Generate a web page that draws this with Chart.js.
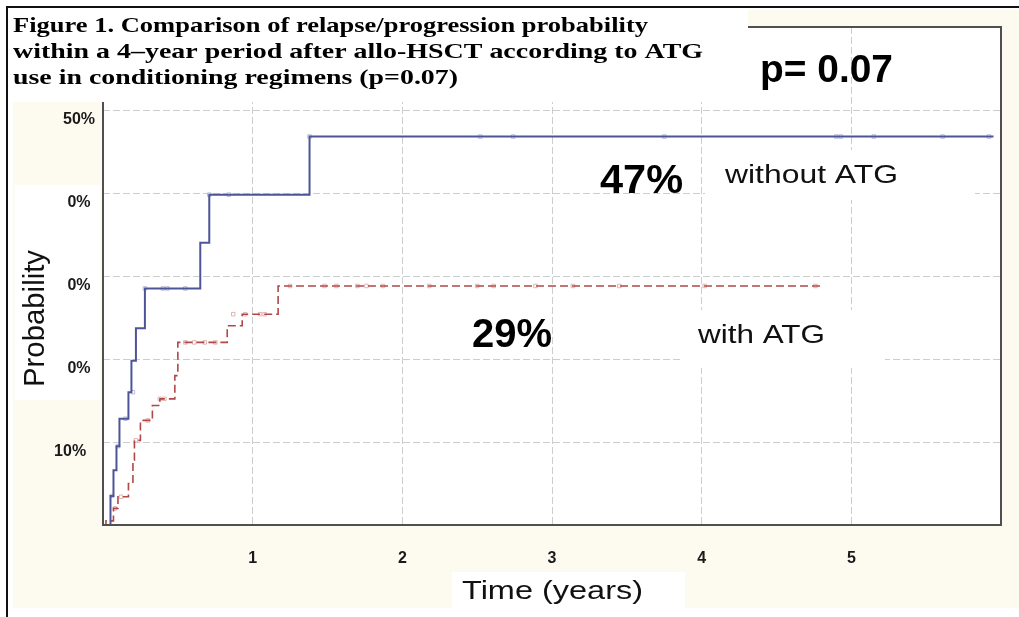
<!DOCTYPE html>
<html><head><meta charset="utf-8">
<script src="https://cdn.jsdelivr.net/npm/chart.js@4.4.0/dist/chart.umd.min.js"></script>
<style>html,body{margin:0;padding:0;background:#fff;overflow:hidden}canvas{display:block}</style>
</head><body>
<canvas id="c" width="1019" height="617"></canvas>
<script>
// ---- data ----
const titleLines = [
  'Figure 1. Comparison of relapse/progression probability',
  'within a 4\u2013year period after allo-HSCT according to ATG',
  'use in conditioning regimens (p=0.07)'
];
const xTickLabels = ['', '1', '2', '3', '4', '5', ''];
const yTickLabels = ['', '10%  ', '0% ', '0% ', '0% ', '50%', ''];

// without ATG (solid blue)
const blueTimes  = [0, 0.05, 0.07, 0.09, 0.11, 0.17, 0.19, 0.22, 0.28, 0.65, 0.71, 1.38, 5.95];
const blueValues = [0, 0.035, 0.066, 0.095, 0.128, 0.16, 0.198, 0.237, 0.285, 0.34, 0.398, 0.468, 0.468];
const blueCensorTimes  = [0.06, 0.1, 0.15, 0.2, 0.28, 0.40, 0.43, 0.55, 0.71, 0.84, 1.38, 2.52, 2.74, 3.75, 4.90, 4.93, 5.15, 5.61, 5.92];
const blueCensorValues = [0.035, 0.095, 0.128, 0.16, 0.285, 0.285, 0.285, 0.285, 0.398, 0.398, 0.468, 0.468, 0.468, 0.468, 0.468, 0.468, 0.468, 0.468, 0.468];

// with ATG (dashed red)
const redTimes  = [0, 0.02, 0.07, 0.1, 0.17, 0.2, 0.21, 0.25, 0.33, 0.38, 0.48, 0.5, 0.83, 0.93, 1.17, 4.8];
const redValues = [0, 0.005, 0.02, 0.034, 0.05, 0.078, 0.102, 0.126, 0.144, 0.152, 0.18, 0.22, 0.24, 0.254, 0.288, 0.288];
const redCensorTimes  = [0.08, 0.12, 0.22, 0.3, 0.38, 0.41, 0.55, 0.61, 0.68, 0.75, 0.87, 0.95, 1.05, 1.08, 1.25, 1.48, 1.56, 1.70, 1.76, 1.87, 2.18, 2.50, 2.61, 2.89, 3.14, 3.45, 4.02, 4.76];
const redCensorValues = [0.02, 0.034, 0.102, 0.126, 0.152, 0.152, 0.22, 0.22, 0.22, 0.22, 0.254, 0.254, 0.254, 0.254, 0.288, 0.288, 0.288, 0.288, 0.288, 0.288, 0.288, 0.288, 0.288, 0.288, 0.288, 0.288, 0.288, 0.288];

const pvalueText = 'p= 0.07';
const blueLabel = 'without ATG', blueRate = '47%';
const redLabel = 'with ATG', redRate = '29%';
const xTitle = 'Time (years)', yTitle = 'Probability';

// ---- build ----
const zip = (xs, ys) => xs.map((x, i) => ({x, y: ys[i]}));
const CREAM = '#fdfaf0';

function fitText(ctx, text, x, y, font, width, color) {
  ctx.save();
  ctx.font = font; ctx.fillStyle = color || '#000';
  ctx.textBaseline = 'alphabetic'; ctx.textAlign = 'left';
  const w = ctx.measureText(text).width;
  ctx.translate(x, y); ctx.scale(width ? width / w : 1, 1);
  ctx.fillText(text, 0, 0);
  ctx.restore();
}

const deco = {
  id: 'deco',
  beforeDraw(chart) {
    const ctx = chart.ctx, a = chart.chartArea;
    ctx.save();
    ctx.fillStyle = '#fff'; ctx.fillRect(0, 0, 1019, 617);
    ctx.fillStyle = CREAM; ctx.fillRect(13, 10, 1006, 598);
    ctx.fillStyle = '#fff';
    ctx.fillRect(a.left, a.top, a.right - a.left, a.bottom - a.top);
    ctx.fillRect(15, 185, 85, 215);
    ctx.fillRect(452, 572, 233, 36);
    ctx.strokeStyle = '#111'; ctx.lineWidth = 2;
    ctx.beginPath(); ctx.moveTo(7, 617); ctx.lineTo(7, 7); ctx.lineTo(1019, 7); ctx.stroke();
    ctx.restore();
  },
  afterDraw(chart) {
    const ctx = chart.ctx, a = chart.chartArea;
    ctx.save();
    ctx.strokeStyle = '#505050'; ctx.lineWidth = 2;
    ctx.strokeRect(a.left, a.top, a.right - a.left, a.bottom - a.top);
    ctx.fillStyle = '#fff';
    ctx.fillRect(8, 8, 740, 94);
    ctx.fillRect(705, 150, 270, 50);
    ctx.fillRect(683, 310, 202, 58);
    ctx.restore();
    const serif = 'bold 21px "Liberation Serif", "Times New Roman", serif';
    fitText(ctx, titleLines[0], 13, 32, serif, 635);
    fitText(ctx, titleLines[1], 13, 58, serif, 690);
    fitText(ctx, titleLines[2], 13, 84, serif, 445);
    const sans = '"Liberation Sans", Arial, sans-serif';
    fitText(ctx, pvalueText, 760, 82, 'bold 38px ' + sans, 133);
    fitText(ctx, blueRate, 600, 193, 'bold 40px ' + sans, 83);
    fitText(ctx, redRate, 472, 347, 'bold 40px ' + sans, 80);
    fitText(ctx, blueLabel, 725, 183, '25px ' + sans, 173, '#111');
    fitText(ctx, redLabel, 698, 343, '25px ' + sans, 127, '#111');
    fitText(ctx, xTitle, 462, 599, '25px ' + sans, 181, '#111');
    // rotated y title
    ctx.save();
    ctx.font = '26px ' + sans; ctx.fillStyle = '#111';
    const w = ctx.measureText(yTitle).width;
    ctx.translate(44, 387);
    ctx.scale(1.15, 1);
    ctx.rotate(-Math.PI / 2);
    ctx.scale(137 / w, 1);
    ctx.fillText(yTitle, 0, 0);
    ctx.restore();
  }
};

new Chart(document.getElementById('c'), {
  type: 'line',
  data: {
    datasets: [
      { label: blueLabel, data: zip(blueTimes, blueValues), stepped: 'before',
        borderColor: '#4e5597', borderWidth: 2, pointRadius: 0, fill: false },
      { label: redLabel, data: zip(redTimes, redValues), stepped: 'before',
        borderColor: '#b04848', borderWidth: 1.6, borderDash: [8, 4], pointRadius: 0, fill: false },
      { type: 'scatter', label: 'c1', data: zip(blueCensorTimes, blueCensorValues), showLine: false,
        pointStyle: 'rect', pointRadius: 2.5, pointBackgroundColor: '#fff', pointBorderColor: '#b8bcd8', pointBorderWidth: 1 },
      { type: 'scatter', label: 'c2', data: zip(redCensorTimes, redCensorValues), showLine: false,
        pointStyle: 'rect', pointRadius: 2.5, pointBackgroundColor: '#fff', pointBorderColor: '#e0b4b4', pointBorderWidth: 1 }
    ]
  },
  options: {
    responsive: false, animation: false, devicePixelRatio: 1,
    layout: { padding: { top: 27, right: 18, left: 0, bottom: 0 } },
    plugins: { legend: { display: false }, tooltip: { enabled: false } },
    scales: {
      x: {
        type: 'linear', min: 0, max: 6,
        afterFit(s) { s.height = 92; s.paddingRight = 0; s.paddingLeft = 0; },
        border: { display: false, dash: [7, 3] },
        grid: { drawTicks: false, lineWidth: 1,
          color: c => (c.tick && (c.tick.value === 0 || c.tick.value === 6)) ? 'rgba(0,0,0,0)' : '#cdcdcd' },
        ticks: { stepSize: 1, padding: 24, color: '#1a1a1a', maxRotation: 0, autoSkip: false,
          font: { family: '"Liberation Sans", Arial, sans-serif', size: 16, weight: 'bold' },
          callback: (v, i) => xTickLabels[i] }
      },
      y: {
        type: 'linear', min: 0, max: 0.6,
        afterFit(s) { s.width = 103; },
        border: { display: false, dash: [7, 3] },
        grid: { drawTicks: false, lineWidth: 1,
          color: c => (c.index === 0 || c.index === 6) ? 'rgba(0,0,0,0)' : '#cdcdcd' },
        ticks: { stepSize: 0.1, padding: 8, labelOffset: 10, color: '#1a1a1a', autoSkip: false,
          font: { family: '"Liberation Sans", Arial, sans-serif', size: 16, weight: 'bold' },
          callback: (v, i) => yTickLabels[i] }
      }
    }
  },
  plugins: [deco]
});
</script>
</body></html>
